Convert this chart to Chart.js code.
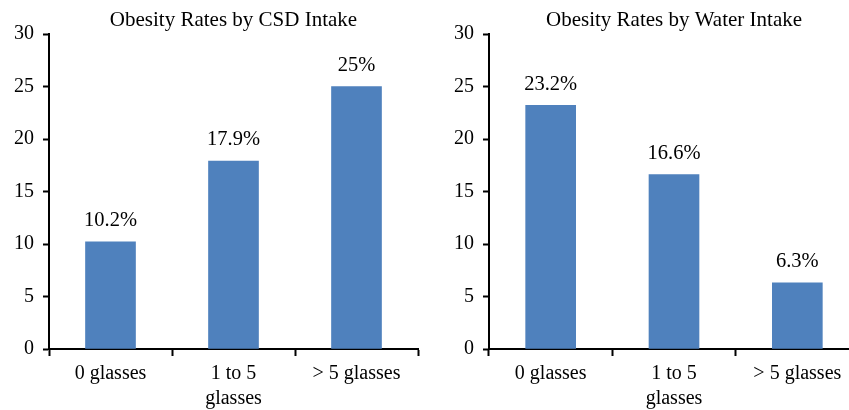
<!DOCTYPE html>
<html>
<head>
<meta charset="utf-8">
<script src="https://cdn.jsdelivr.net/npm/chart.js@4/dist/chart.umd.min.js"></script>
<style>
  html, body { margin: 0; padding: 0; background: #fff; overflow: hidden; }
  body { width: 849px; height: 410px; position: relative; }
  .panel { position: absolute; top: 0; }
</style>
</head>
<body>
<div class="panel" style="left:0;width:425px;height:410px"><canvas id="csd"></canvas></div>
<div class="panel" style="left:425px;width:440px;height:410px"><canvas id="water"></canvas></div>
<script>
// Intake categories shared by both panels
const categories = [['0 glasses'], ['1 to 5', 'glasses'], ['> 5 glasses']];
// Obesity rates (%) by carbonated soft drink intake
const csdRates = [10.2, 17.9, 25];
// Obesity rates (%) by water intake
const waterRates = [23.2, 16.6, 6.3];
const yTicks = [0, 5, 10, 15, 20, 25, 30];

const FONT = '"Liberation Serif", "Times New Roman", serif';
const BAR_COLOR = '#4F81BD';

// Title centred over the plot area, percentage labels above each bar
const decorPlugin = {
  id: 'decor',
  afterDatasetsDraw(chart, args, opts) {
    const ctx = chart.ctx;
    const area = chart.chartArea;
    ctx.save();
    ctx.fillStyle = '#000';
    ctx.textAlign = 'center';
    ctx.textBaseline = 'middle';
    ctx.font = '21px ' + FONT;
    ctx.fillText(opts.title, (area.left + area.right) / 2, 20);
    ctx.font = '20.5px ' + FONT;
    const meta = chart.getDatasetMeta(0);
    const data = chart.data.datasets[0].data;
    meta.data.forEach((bar, i) => {
      ctx.fillText(String(data[i]) + '%', bar.x, bar.y - 21);
    });
    ctx.restore();
  }
};

function makeChart(id, values, title, yAxisWidth, padRight) {
  return new Chart(document.getElementById(id), {
    type: 'bar',
    data: {
      labels: categories,
      datasets: [{
        data: values,
        backgroundColor: BAR_COLOR,
        borderWidth: 0,
        barThickness: 50
      }]
    },
    plugins: [decorPlugin],
    options: {
      responsive: true,
      maintainAspectRatio: false,
      animation: false,
      layout: { padding: { top: 34, right: padRight, left: 0, bottom: 0 } },
      plugins: {
        legend: { display: false },
        tooltip: { enabled: false },
        decor: { title: title }
      },
      scales: {
        x: {
          grid: {
            offset: true,
            drawOnChartArea: false,
            drawTicks: true,
            tickLength: 7,
            tickWidth: 2,
            color: '#000'
          },
          border: { color: '#000', width: 2 },
          ticks: {
            color: '#000',
            padding: 5,
            maxRotation: 0,
            autoSkip: false,
            font: { family: FONT, size: 20, lineHeight: 1.25 }
          },
          afterFit(scale) { scale.height = 61; }
        },
        y: {
          min: 0,
          max: 30,
          afterBuildTicks(scale) { scale.ticks = yTicks.map(v => ({ value: v })); },
          grid: {
            drawOnChartArea: false,
            drawTicks: true,
            tickLength: 6,
            tickWidth: 2,
            color: '#000'
          },
          border: { color: '#000', width: 2 },
          ticks: {
            color: '#000',
            padding: 9,
            font: { family: FONT, size: 20 }
          },
          afterFit(scale) { scale.width = yAxisWidth; }
        }
      }
    }
  });
}

makeChart('csd', csdRates, 'Obesity Rates by CSD Intake', 49, 7);
makeChart('water', waterRates, 'Obesity Rates by Water Intake', 64, 6);
</script>
</body>
</html>
